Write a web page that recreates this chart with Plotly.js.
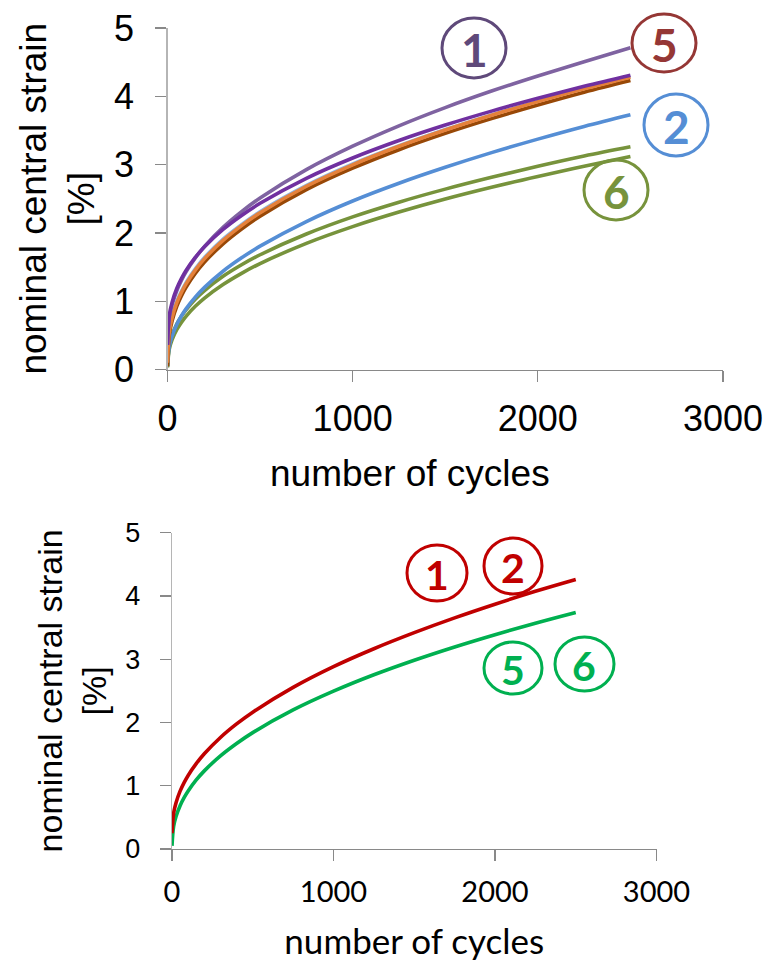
<!DOCTYPE html>
<html>
<head>
<meta charset="utf-8">
<script src="https://cdn.plot.ly/plotly-3.0.1.min.js"></script>
<style>html,body{margin:0;padding:0;background:#fff;}#chart{width:768px;height:962px;}</style>
</head>
<body>
<div id="chart"></div>
<script>
// number of cycles (sampling grid of the values)
const cycles = [0, 10, 25, 50, 75, 100, 150, 200, 300, 400, 500, 750, 1000, 1250, 1500, 1750, 2000, 2250, 2500];

// top chart: nominal central strain [%]
const topCurve1    = [0.38, 0.761, 0.95, 1.153, 1.304, 1.43, 1.634, 1.803, 2.081, 2.311, 2.511, 2.926, 3.269, 3.568, 3.835, 4.077, 4.298, 4.507, 4.71];
const topPurple    = [0.36, 0.794, 0.986, 1.186, 1.331, 1.45, 1.641, 1.798, 2.051, 2.256, 2.434, 2.80, 3.097, 3.353, 3.579, 3.783, 3.971, 4.147, 4.31];
const topLightBlue = [0.15, 0.599, 0.802, 1.014, 1.162, 1.288, 1.486, 1.653, 1.92, 2.132, 2.32, 2.703, 3.017, 3.283, 3.522, 3.733, 3.932, 4.114, 4.285];
const topOrange    = [0.10, 0.559, 0.762, 0.974, 1.127, 1.253, 1.456, 1.623, 1.89, 2.107, 2.295, 2.683, 2.997, 3.268, 3.507, 3.723, 3.922, 4.109, 4.28];
const topBrown     = [0.05, 0.509, 0.712, 0.924, 1.077, 1.203, 1.406, 1.573, 1.84, 2.057, 2.245, 2.633, 2.947, 3.218, 3.457, 3.673, 3.872, 4.059, 4.23];
const topBlue      = [0.05, 0.34, 0.493, 0.659, 0.783, 0.888, 1.059, 1.202, 1.439, 1.635, 1.806, 2.166, 2.467, 2.727, 2.96, 3.175, 3.373, 3.559, 3.73];
const topGreenA    = [0.04, 0.357, 0.506, 0.664, 0.779, 0.874, 1.03, 1.156, 1.364, 1.533, 1.68, 1.984, 2.235, 2.45, 2.641, 2.814, 2.975, 3.125, 3.26];
const topGreenB    = [0.03, 0.302, 0.437, 0.582, 0.689, 0.779, 0.925, 1.046, 1.244, 1.408, 1.551, 1.847, 2.092, 2.305, 2.496, 2.668, 2.826, 2.975, 3.12];

// bottom chart
const botRed   = [0.25, 0.566, 0.732, 0.914, 1.049, 1.163, 1.349, 1.505, 1.763, 1.977, 2.163, 2.555, 2.883, 3.166, 3.42, 3.654, 3.87, 4.073, 4.26];
const botGreen = [0.05, 0.358, 0.515, 0.685, 0.812, 0.917, 1.091, 1.235, 1.472, 1.668, 1.84, 2.198, 2.495, 2.754, 2.984, 3.194, 3.388, 3.57, 3.74];

// tick labels
const xTicks = [0, 1000, 2000, 3000];
const yTicks = [0, 1, 2, 3, 4, 5];

const W = 768, H = 962;
const px = v => v / W;
const py = v => 1 - v / H;

function line(y, color, axes, width) {
  return {
    x: cycles, y: y, type: 'scatter', mode: 'lines',
    line: {color: color, width: width || 3.6, shape: 'spline', smoothing: 1},
    xaxis: axes[0], yaxis: axes[1], hoverinfo: 'skip', showlegend: false
  };
}

const data = [
  line(topGreenB, '#77933C', ['x', 'y']),
  line(topGreenA, '#77933C', ['x', 'y']),
  line(topBlue, '#558ED5', ['x', 'y']),
  line(topLightBlue, '#8EB4E3', ['x', 'y'], 2.5),
  line(topBrown, '#984807', ['x', 'y']),
  line(topOrange, '#E5813A', ['x', 'y']),
  line(topCurve1, '#7F63A1', ['x', 'y']),
  line(topPurple, '#7030A0', ['x', 'y']),
  line(botGreen, '#00B050', ['x2', 'y2']),
  line(botRed, '#C00000', ['x2', 'y2'])
];

const arial = '"Liberation Sans", Arial, sans-serif';
const calib = 'Lato, "Open Sans", sans-serif';

function axisX(domain, anchor, fontFam, fontSize) {
  return {
    domain: domain, anchor: anchor, range: [0, 3000], tickvals: xTicks, ticktext: xTicks.map(String),
    showgrid: false, zeroline: false, showline: true, linecolor: '#898989', linewidth: 1.3,
    ticks: 'outside', ticklen: 11, tickcolor: '#898989', tickwidth: 1.3,
    tickfont: {family: fontFam, size: fontSize, color: '#000'}, ticklabelstandoff: 6, fixedrange: true
  };
}
function axisY(domain, anchor, fontSize, titleSize) {
  return {
    domain: domain, anchor: anchor, range: [0, 5], tickvals: yTicks, ticktext: yTicks.map(String),
    showgrid: false, zeroline: false, showline: true, linecolor: '#B5B5B5', linewidth: 1.3,
    ticks: 'outside', ticklen: 11, tickcolor: '#898989', tickwidth: 1.3,
    tickfont: {family: arial, size: fontSize, color: '#000'}, ticklabelstandoff: 14,
    title: {text: 'nominal central strain<br>[%]', font: {family: arial, size: titleSize, color: '#000'}, standoff: 8},
    fixedrange: true
  };
}

function circle(x0, x1, y0, y1, color) {
  return {type: 'circle', xref: 'paper', yref: 'paper',
    x0: px(x0), x1: px(x1), y0: py(y1), y1: py(y0),
    line: {color: color, width: 3}, fillcolor: 'rgba(0,0,0,0)'};
}
function label(text, cx, cy, color, size) {
  return {text: '<b>' + text + '</b>', xref: 'paper', yref: 'paper', x: px(cx), y: py(cy),
    xanchor: 'center', yanchor: 'middle', showarrow: false,
    font: {family: calib, size: size, color: color}};
}

const layout = {
  width: W, height: H,
  margin: {l: 0, r: 0, t: 0, b: 0},
  paper_bgcolor: '#fff', plot_bgcolor: '#fff',
  showlegend: false,
  xaxis: axisX([px(167.5), px(723)], 'y', arial, 36),
  yaxis: axisY([py(369.5), py(28)], 'x', 36, 37),
  xaxis2: Object.assign(axisX([px(172), px(656.5)], 'y2', calib, 29),
    {title: {text: 'number of cycles', font: {family: calib, size: 35, color: '#000'}, standoff: 22}}),
  yaxis2: axisY([py(849), py(532.7)], 'x2', 27, 34),
  shapes: [
    circle(442, 506, 18, 78, '#5F497A'),
    circle(632, 696, 14, 72, '#953735'),
    circle(644, 708, 94, 156, '#558ED5'),
    circle(584, 648, 160, 220, '#77933C'),
    circle(407, 467, 545, 601, '#C00000'),
    circle(484, 542, 538, 594, '#C00000'),
    circle(484, 542, 642, 694, '#00B050'),
    circle(555, 614, 637, 691, '#00B050')
  ],
  annotations: [
    {text: 'number of cycles', xref: 'paper', yref: 'paper', x: px(410), y: py(473),
     xanchor: 'center', yanchor: 'middle', showarrow: false, font: {family: arial, size: 37, color: '#000'}},
    label('1', 474, 50, '#5F497A', 46),
    label('5', 664, 44, '#953735', 46),
    label('2', 676, 126, '#558ED5', 46),
    label('6', 616, 191, '#77933C', 46),
    label('1', 437, 574, '#C00000', 41),
    label('2', 513, 567, '#C00000', 41),
    label('5', 513, 669, '#00B050', 41),
    label('6', 584, 665, '#00B050', 41)
  ]
};

Plotly.newPlot('chart', data, layout, {staticPlot: true, displayModeBar: false});
</script>
</body>
</html>
